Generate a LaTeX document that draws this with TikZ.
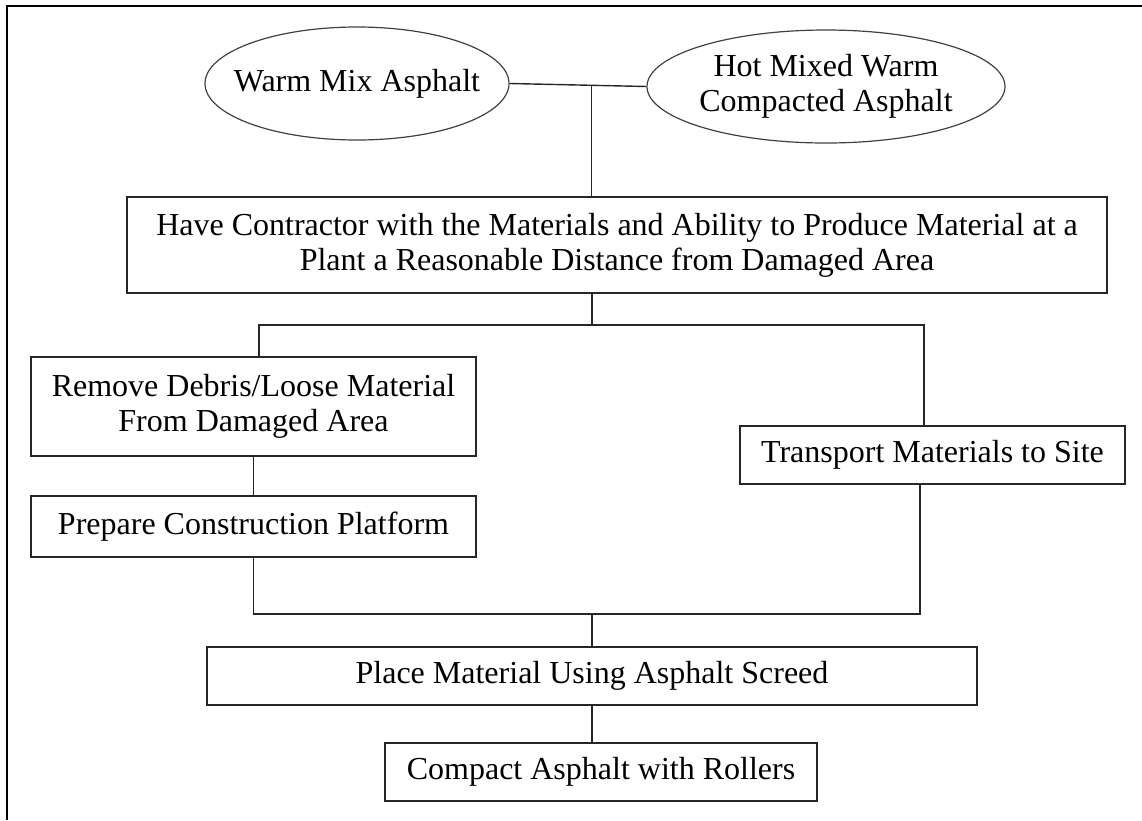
\documentclass[tikz,border=0pt]{standalone}
\usepackage{fontspec}
\setmainfont{Liberation Serif}
\usetikzlibrary{shapes.geometric,calc}
\tikzset{
    stepbox/.style={draw=black!85, line width=1.4pt, rectangle, inner sep=0pt,
        align=center, font=\fontsize{32}{35}\selectfont},
    mixoval/.style={draw=black!75, line width=1.2pt, ellipse, inner ysep=0pt, inner xsep=-40pt,
        align=center, font=\fontsize{32}{35}\selectfont},
    link/.style={draw=black!85, line width=1.4pt}
}
\begin{document}
\begin{tikzpicture}[x=1pt,y=-1pt]
    \useasboundingbox (0,0) rectangle (1142,820);
    %% outer frame
    \draw[line width=2.4pt] (7,820) -- (7,6) -- (1142,6);
    %% asphalt types
    \node[mixoval, minimum width=304pt, minimum height=113pt] (wma) at (357,83.5) {Warm Mix Asphalt};
    \node[mixoval, minimum width=358pt, minimum height=113pt] (hmwc) at (826,86.5) {Hot Mixed Warm\\Compacted Asphalt};
    %% contractor
    \node[stepbox, minimum width=980pt, minimum height=96pt] (contractor) at (617,245)
        {Have Contractor with the Materials and Ability to Produce Material at a\\Plant a Reasonable Distance from Damaged Area};
    %% left branch
    \node[stepbox, minimum width=445pt, minimum height=99pt] (remove) at (253.5,406.5)
        {Remove Debris/Loose Material\\From Damaged Area};
    \node[stepbox, minimum width=445pt, minimum height=61pt] (prepare) at (253.5,526.5) {Prepare Construction Platform};
    %% right branch
    \node[stepbox, minimum width=385pt, minimum height=58pt] (transport) at (932.5,455) {Transport Materials to Site};
    %% placing and compacting
    \node[stepbox, minimum width=770pt, minimum height=58pt] (place) at (592,676) {Place Material Using Asphalt Screed};
    \node[stepbox, minimum width=432pt, minimum height=58pt] (compact) at (601,772) {Compact Asphalt with Rollers};
    %% connectors
    \coordinate (join) at ($(wma.east)!0.6!(hmwc.west)$);
    \coordinate (split) at (592,325);
    \coordinate (lb) at (259,325);
    \coordinate (rb) at (924,325);
    \coordinate (mb) at (920,614);
    \draw[link] (wma.east) -- (hmwc.west);
    \draw[link] (join) -- (join |- contractor.north);
    \draw[link] (split |- contractor.south) -- (split);
    \draw[link] (lb |- remove.north) -- (lb) -- (rb) -- (rb |- transport.north);
    \draw[link] (remove.south) -- (prepare.north);
    \draw[link] (prepare.south) |- (mb) -- (mb |- transport.south);
    \draw[link] (place.north |- mb) -- (place.north);
    \draw[link] (place.south) -- (place.south |- compact.north);
\end{tikzpicture}
\end{document}
